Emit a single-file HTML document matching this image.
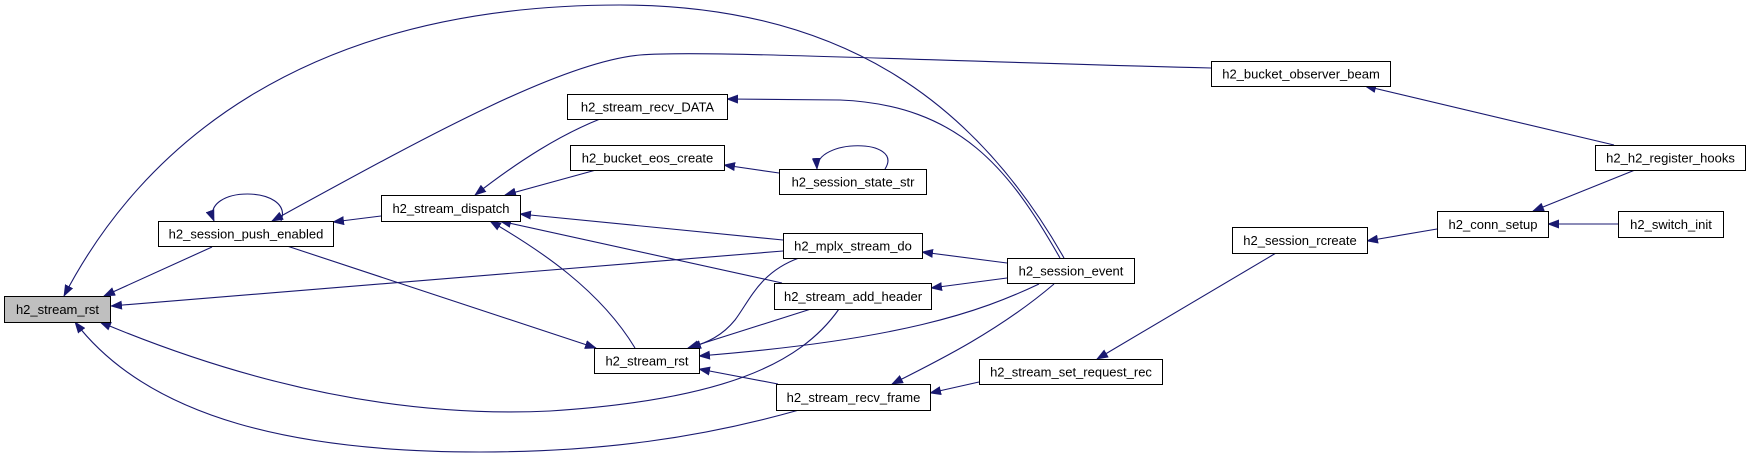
<!DOCTYPE html>
<html><head><meta charset="utf-8"><style>
html,body{margin:0;padding:0;background:#fff;}
svg{display:block;}
text{font-family:"Liberation Sans",Arial,sans-serif;font-size:13px;fill:#000;}
</style></head><body>
<svg width="1751" height="457" viewBox="0 0 1751 457" xmlns="http://www.w3.org/2000/svg">
<defs>
<marker id="a" markerWidth="12" markerHeight="9" refX="11" refY="4.5" orient="auto" markerUnits="userSpaceOnUse">
<path d="M0,0 L12,4.5 L0,9 Z" fill="#191970"/>
</marker>
</defs>
<g fill="none" stroke="#191970" stroke-width="1.1" marker-end="url(#a)">
<path d="M1064,258 C980,110 850,5 620,5 C300,5 140,150 64,296"/>
<path d="M212,247 L104,296"/>
<path d="M783,251 L111,306"/>
<path d="M839,309 C800,365 720,400 550,411 C400,418 250,385 100,322"/>
<path d="M799,410 C700,438 600,452 480,452 C300,452 150,420 75,322"/>
<path d="M281,221 C295,185 200,185 214,221"/>
<path d="M1211,68 C900,60 700,50 640,55 C560,62 420,140 272,221"/>
<path d="M287,246 L596,348"/>
<path d="M381,216 L333,222"/>
<path d="M600,119 C560,135 520,160 475,195"/>
<path d="M596,170 L505,195"/>
<path d="M783,240 L520,214"/>
<path d="M782,283 L500,221"/>
<path d="M635,348 C600,290 540,250 490,221"/>
<path d="M1060,258 C1010,170 960,105 840,100 L727,99"/>
<path d="M779,173 L724,165"/>
<path d="M885,169 C905,138 815,138 817,169"/>
<path d="M1007,263 L922,252"/>
<path d="M1007,278 L931,288"/>
<path d="M799,258 C760,272 750,300 735,320 C722,336 708,342 690,348"/>
<path d="M811,309 L688,348"/>
<path d="M1039,284 C980,312 900,340 699,356"/>
<path d="M1054,284 C1000,330 940,360 892,384"/>
<path d="M778,384 L699,369"/>
<path d="M979,382 L930,393"/>
<path d="M1276,253 L1097,359"/>
<path d="M1437,229 L1367,241"/>
<path d="M1635,170 L1533,211"/>
<path d="M1618,224 L1548,224"/>
<path d="M1614,145 L1365,86"/>
</g>
<g stroke="#000" stroke-width="1" fill="#fff">
<rect x="4.5" y="296.5" width="106" height="26" fill="#bfbfbf"/>
<rect x="158.5" y="221.5" width="175" height="25"/>
<rect x="381.5" y="195.5" width="139" height="26"/>
<rect x="567.5" y="94.5" width="160" height="25"/>
<rect x="570.5" y="145.5" width="154" height="25"/>
<rect x="779.5" y="169.5" width="147" height="25"/>
<rect x="783.5" y="233.5" width="139" height="25"/>
<rect x="1007.5" y="258.5" width="127" height="25"/>
<rect x="774.5" y="283.5" width="157" height="26"/>
<rect x="594.5" y="348.5" width="105" height="25"/>
<rect x="776.5" y="384.5" width="154" height="26"/>
<rect x="979.5" y="359.5" width="183" height="25"/>
<rect x="1211.5" y="61.5" width="179" height="25"/>
<rect x="1595.5" y="145.5" width="150" height="25"/>
<rect x="1437.5" y="211.5" width="111" height="26"/>
<rect x="1618.5" y="211.5" width="105" height="26"/>
<rect x="1232.5" y="227.5" width="135" height="26"/>
</g>
<g text-anchor="middle">
<text x="57.5" y="314">h2_stream_rst</text>
<text x="246" y="238.5">h2_session_push_enabled</text>
<text x="451" y="213">h2_stream_dispatch</text>
<text x="647.5" y="111.5">h2_stream_recv_DATA</text>
<text x="647.5" y="162.5">h2_bucket_eos_create</text>
<text x="853" y="186.5">h2_session_state_str</text>
<text x="853" y="250.5">h2_mplx_stream_do</text>
<text x="1071" y="275.5">h2_session_event</text>
<text x="853" y="301">h2_stream_add_header</text>
<text x="647" y="365.5">h2_stream_rst</text>
<text x="853.5" y="402">h2_stream_recv_frame</text>
<text x="1071" y="376.5">h2_stream_set_request_rec</text>
<text x="1301" y="78.5">h2_bucket_observer_beam</text>
<text x="1670.5" y="162.5">h2_h2_register_hooks</text>
<text x="1493" y="229">h2_conn_setup</text>
<text x="1671" y="229">h2_switch_init</text>
<text x="1300" y="245">h2_session_rcreate</text>
</g>
</svg>
</body></html>
